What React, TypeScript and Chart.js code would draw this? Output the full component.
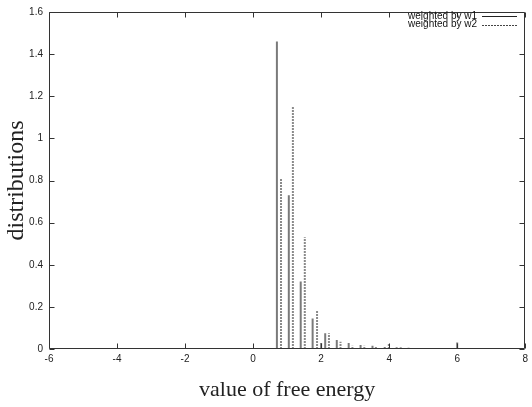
import { useEffect, useRef } from 'react';
import { Chart, registerables } from 'chart.js';

Chart.register(...registerables);

// Data
const w1X = [0.70, 1.05, 1.40, 1.75, 2.00, 2.12, 2.46, 2.81, 3.16, 3.51, 3.87, 4.22, 4.57, 4.92, 6.0];
const w1Y = [1.46, 0.73, 0.32, 0.145, 0.028, 0.075, 0.043, 0.028, 0.019, 0.015, 0.010, 0.008, 0.006, 0.004, 0.031];
const w2X = [0.82, 1.17, 1.52, 1.88, 2.23, 2.57, 2.92, 3.27, 3.61, 3.99, 4.34, 4.69, 5.04];
const w2Y = [0.81, 1.15, 0.53, 0.18, 0.075, 0.034, 0.015, 0.015, 0.012, 0.025, 0.008, 0.005, 0.004];
const xTicks = [-6, -4, -2, 0, 2, 4, 6, 8];
const yTicks = [0, 0.2, 0.4, 0.6, 0.8, 1, 1.2, 1.4, 1.6];
const seriesLabels = ['weighted by w1', 'weighted by w2'];

function impulses(xs: number[], ys: number[]) {
  const pts: { x: number; y: number | null }[] = [];
  xs.forEach((x, i) => {
    pts.push({ x, y: 0 }, { x, y: ys[i] }, { x, y: null });
  });
  return pts;
}

const framePlugin = {
  id: 'gnuFrame',
  afterDatasetsDraw(chart: any) {
    const { ctx, chartArea: a, scales } = chart;
    const L = Math.round(a.left) + 0.5;
    const R = Math.round(a.right) - 0.5;
    const T = Math.round(a.top) + 0.5;
    const B = Math.round(a.bottom) - 0.5;
    ctx.save();
    ctx.strokeStyle = '#333';
    ctx.lineWidth = 1;
    ctx.beginPath();
    ctx.rect(L, T, R - L, B - T);
    const tl = 5;
    scales.x.ticks.forEach((t: any) => {
      const px = Math.round(scales.x.getPixelForValue(t.value)) + 0.5;
      ctx.moveTo(px, B);
      ctx.lineTo(px, B - tl);
      ctx.moveTo(px, T);
      ctx.lineTo(px, T + tl);
    });
    scales.y.ticks.forEach((t: any) => {
      const py = Math.round(scales.y.getPixelForValue(t.value)) + 0.5;
      ctx.moveTo(L, py);
      ctx.lineTo(L + tl, py);
      ctx.moveTo(R, py);
      ctx.lineTo(R - tl, py);
    });
    ctx.stroke();

    // key (legend) in gnuplot style: text right-aligned, sample line to the right
    ctx.font = '10px "Liberation Sans", Arial, sans-serif';
    ctx.textAlign = 'right';
    ctx.textBaseline = 'middle';
    ctx.fillStyle = '#111';
    chart.data.datasets.forEach((ds: any, i: number) => {
      const y = 16 + i * 8.5;
      ctx.fillText(ds.label, 477, y);
      ctx.save();
      ctx.strokeStyle = i === 0 ? '#222' : '#444';
      ctx.lineWidth = 1;
      ctx.setLineDash(ds.borderDash || []);
      ctx.beginPath();
      ctx.moveTo(482, Math.round(y) + 0.5);
      ctx.lineTo(517, Math.round(y) + 0.5);
      ctx.stroke();
      ctx.restore();
    });
    ctx.restore();
  },
};

export default function App() {
  const ref = useRef<HTMLCanvasElement>(null);
  useEffect(() => {
    const sans = '"Liberation Sans", Arial, sans-serif';
    const serif = '"Liberation Serif", "Times New Roman", serif';
    const chart = new Chart(ref.current as HTMLCanvasElement, {
      type: 'scatter',
      data: {
        datasets: [
          {
            label: seriesLabels[0],
            data: impulses(w1X, w1Y) as any,
            showLine: true,
            spanGaps: false,
            pointRadius: 0,
            borderColor: '#7a7a7a',
            borderWidth: 2,
            borderCapStyle: 'butt',
          },
          {
            label: seriesLabels[1],
            data: impulses(w2X, w2Y) as any,
            showLine: true,
            spanGaps: false,
            pointRadius: 0,
            borderColor: '#8a8a8a',
            borderWidth: 2,
            borderDash: [2, 1],
            borderCapStyle: 'butt',
          },
        ],
      },
      options: {
        responsive: false,
        animation: false,
        devicePixelRatio: 1,
        layout: { padding: { top: 6, right: 4, left: 0, bottom: 0 } },
        plugins: {
          legend: { display: false },
          tooltip: { enabled: false },
        },
        scales: {
          x: {
            type: 'linear',
            min: -6,
            max: 8,
            afterBuildTicks: (s: any) => {
              s.ticks = xTicks.map((v) => ({ value: v }));
            },
            afterFit: (s: any) => {
              s.height = 58;
            },
            grid: { display: false, drawTicks: false },
            border: { display: false },
            ticks: {
              color: '#222',
              font: { family: sans, size: 10 },
              padding: 4,
              maxRotation: 0,
              callback: (v: any) => String(v),
            },
            title: {
              display: true,
              text: 'value of free energy',
              color: '#222',
              font: { family: serif, size: 22, lineHeight: 1 },
              padding: { top: 0, bottom: 6 },
            },
          },
          y: {
            type: 'linear',
            min: 0,
            max: 1.6,
            afterBuildTicks: (s: any) => {
              s.ticks = yTicks.map((v) => ({ value: v }));
            },
            afterFit: (s: any) => {
              s.width = 49;
            },
            grid: { display: false, drawTicks: false },
            border: { display: false },
            ticks: {
              color: '#222',
              font: { family: sans, size: 10 },
              padding: 6,
              callback: (v: any) => String(v),
            },
            title: {
              display: true,
              text: 'distributions',
              color: '#222',
              font: { family: serif, size: 24, lineHeight: 1 },
              padding: { top: 5, bottom: 0 },
            },
          },
        },
      },
      plugins: [framePlugin],
    } as any);
    return () => chart.destroy();
  }, []);
  return (
    <div style={{ position: 'absolute', left: 0, top: 0, width: 532, height: 407 }}>
      <canvas ref={ref} width={532} height={407} style={{ display: 'block', width: 532, height: 407 }} />
    </div>
  );
}
